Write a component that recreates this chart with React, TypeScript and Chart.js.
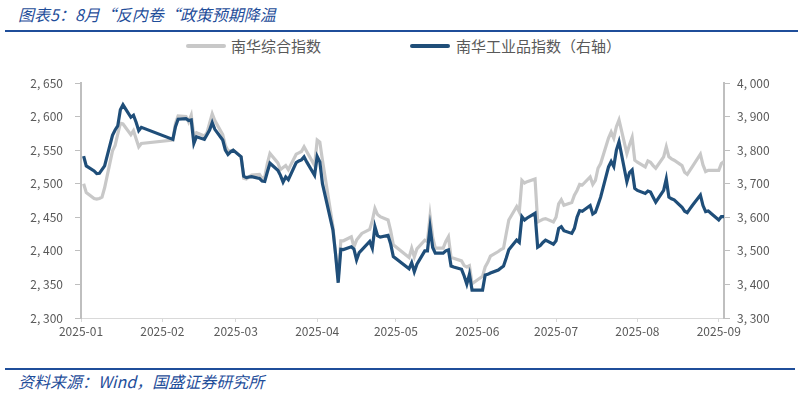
import React, { useEffect, useRef } from "react";
import { Chart, registerables } from "chart.js";

Chart.register(...registerables);

const dates = [
  "2025-01-02","2025-01-03","2025-01-06","2025-01-07","2025-01-08","2025-01-09","2025-01-10",
  "2025-01-13","2025-01-14","2025-01-15","2025-01-16","2025-01-17","2025-01-20","2025-01-21",
  "2025-01-22","2025-01-23","2025-01-24","2025-02-05","2025-02-06","2025-02-07","2025-02-10",
  "2025-02-11","2025-02-12","2025-02-13","2025-02-14","2025-02-17","2025-02-18","2025-02-19",
  "2025-02-20","2025-02-21","2025-02-24","2025-02-25","2025-02-26","2025-02-27","2025-02-28",
  "2025-03-03","2025-03-04","2025-03-05","2025-03-06","2025-03-07","2025-03-10","2025-03-11",
  "2025-03-12","2025-03-13","2025-03-14","2025-03-17","2025-03-18","2025-03-19","2025-03-20",
  "2025-03-21","2025-03-24","2025-03-25","2025-03-26","2025-03-27","2025-03-28","2025-03-31",
  "2025-04-01","2025-04-02","2025-04-03","2025-04-07","2025-04-08","2025-04-09","2025-04-10",
  "2025-04-11","2025-04-14","2025-04-15","2025-04-16","2025-04-17","2025-04-18","2025-04-21",
  "2025-04-22","2025-04-23","2025-04-24","2025-04-25","2025-04-28","2025-04-29","2025-04-30",
  "2025-05-06","2025-05-07","2025-05-08","2025-05-09","2025-05-12","2025-05-13","2025-05-14",
  "2025-05-15","2025-05-16","2025-05-19","2025-05-20","2025-05-21","2025-05-22","2025-05-23",
  "2025-05-26","2025-05-27","2025-05-28","2025-05-29","2025-05-30","2025-06-03","2025-06-04",
  "2025-06-05","2025-06-06","2025-06-09","2025-06-10","2025-06-11","2025-06-12","2025-06-13",
  "2025-06-16","2025-06-17","2025-06-18","2025-06-19","2025-06-20","2025-06-23","2025-06-24",
  "2025-06-25","2025-06-26","2025-06-27","2025-06-30","2025-07-01","2025-07-02","2025-07-03",
  "2025-07-04","2025-07-07","2025-07-08","2025-07-09","2025-07-10","2025-07-11","2025-07-14",
  "2025-07-15","2025-07-16","2025-07-17","2025-07-18","2025-07-21","2025-07-22","2025-07-23",
  "2025-07-24","2025-07-25","2025-07-28","2025-07-29","2025-07-30","2025-07-31","2025-08-01",
  "2025-08-04","2025-08-05","2025-08-06","2025-08-07","2025-08-08","2025-08-11","2025-08-12",
  "2025-08-13","2025-08-14","2025-08-15","2025-08-18","2025-08-19","2025-08-20","2025-08-21",
  "2025-08-22","2025-08-25","2025-08-26","2025-08-27","2025-08-28","2025-08-29","2025-09-01",
  "2025-09-02","2025-09-03"
];

// 南华综合指数 (left axis)
const composite = [
  2500,2487,2478,2477,2478,2480,2494,
  2549,2557,2574,2590,2589,2573,2579,
  2567,2555,2560,2565,2590,2601,2600,
  2592,2602,2571,2576,2571,2576,2590,
  2604,2594,2573,2557,2549,2549,2550,
  2540,2508,2507,2510,2513,2514,2508,
  2510,2530,2545,2531,2521,2524,2527,
  2521,2544,2546,2548,2555,2548,2527,
  2565,2562,2535,2436,2395,2359,2415,
  2415,2421,2406,2416,2421,2426,2432,
  2445,2463,2454,2451,2446,2430,2409,
  2390,2404,2391,2403,2416,2414,2452,
  2420,2404,2404,2414,2421,2390,2389,
  2385,2378,2376,2378,2351,2362,2376,
  2383,2392,2399,2402,2404,2425,2446,
  2466,2458,2505,2501,2503,2507,2443,
  2445,2447,2448,2443,2450,2470,2476,
  2468,2472,2483,2490,2499,2498,2510,
  2499,2505,2523,2530,2568,2577,2568,
  2585,2595,2545,2558,2569,2535,2532,
  2525,2534,2532,2527,2523,2540,2555,
  2540,2537,2535,2527,2517,2514,2520,
  2526,2544,2528,2518,2520,2520,2520,
  2530,2533
];

// 南华工业品指数 (right axis)
const industrial = [
  3782,3753,3738,3730,3731,3742,3753,
  3844,3860,3872,3920,3935,3898,3904,
  3883,3858,3868,3832,3870,3892,3894,
  3888,3890,3820,3840,3832,3846,3860,
  3882,3862,3830,3800,3787,3795,3800,
  3780,3722,3718,3720,3721,3716,3708,
  3707,3735,3761,3740,3725,3705,3720,
  3712,3763,3768,3771,3780,3765,3725,
  3781,3765,3700,3562,3490,3405,3505,
  3504,3512,3505,3473,3495,3503,3528,
  3508,3572,3545,3541,3546,3520,3483,
  3447,3465,3438,3460,3500,3500,3570,
  3510,3493,3493,3500,3503,3455,3452,
  3445,3425,3401,3430,3383,3383,3428,
  3430,3434,3443,3449,3455,3478,3503,
  3532,3525,3602,3592,3598,3612,3511,
  3516,3525,3532,3520,3530,3567,3572,
  3560,3552,3567,3600,3620,3618,3635,
  3610,3615,3637,3660,3750,3766,3751,
  3800,3825,3706,3733,3741,3686,3680,
  3671,3678,3675,3660,3645,3680,3714,
  3660,3655,3652,3630,3618,3614,3625,
  3636,3666,3635,3617,3619,3612,3592,
  3602,3602
];

const monthStarts = [
  "2025-01-01","2025-02-01","2025-03-01","2025-04-01","2025-05-01",
  "2025-06-01","2025-07-01","2025-08-01","2025-09-01"
];
const monthLabels = [
  "2025-01","2025-02","2025-03","2025-04","2025-05",
  "2025-06","2025-07","2025-08","2025-09"
];
const xStart = "2025-01-01";
const xEnd = "2025-09-03";

const seriesNames = ["南华综合指数", "南华工业品指数（右轴）"];
const titleText = "图表5：8月“反内卷“政策预期降温";
const sourceText = "资料来源：Wind，国盛证券研究所";

const GREY = "#C8C8C8";
const NAVY = "#1F4E79";
const BLUE = "#1F4E9A";
const TXT = "#595959";
const FONT = "'Noto Sans CJK SC', 'Noto Sans', sans-serif";

const dayOf = (d: string) =>
  (Date.parse(d + "T00:00:00Z") - Date.parse(xStart + "T00:00:00Z")) / 86400000;

const fmt = (v: number) => {
  const s = Math.round(v).toString();
  return s.length > 3 ? s.slice(0, s.length - 3) + ", " + s.slice(s.length - 3) : s;
};

export default function App() {
  const ref = useRef<HTMLCanvasElement | null>(null);

  useEffect(() => {
    document.body.style.margin = "0";
    if (!ref.current) return;
    const monthDays = monthStarts.map(dayOf);
    const chart = new Chart(ref.current, {
      type: "line",
      data: {
        datasets: [
          {
            label: seriesNames[1],
            data: dates.map((d, i) => ({ x: dayOf(d), y: industrial[i] })),
            borderColor: NAVY,
            borderWidth: 3.2,
            pointRadius: 0,
            tension: 0,
            yAxisID: "y2",
            order: 1,
          },
          {
            label: seriesNames[0],
            data: dates.map((d, i) => ({ x: dayOf(d), y: composite[i] })),
            borderColor: GREY,
            borderWidth: 3.2,
            pointRadius: 0,
            tension: 0,
            yAxisID: "y",
            order: 2,
          },
        ],
      },
      options: {
        animation: false,
        responsive: false,
        maintainAspectRatio: false,
        layout: { padding: { top: 23, left: 0, right: 0, bottom: 0 } },
        plugins: { legend: { display: false }, tooltip: { enabled: false } },
        scales: {
          x: {
            type: "linear",
            min: 0,
            max: dayOf(xEnd),
            afterBuildTicks: (s: any) => {
              s.ticks = monthDays.map((v) => ({ value: v }));
            },
            afterFit: (s: any) => {
              s.height = 22;
            },
            ticks: {
              autoSkip: false,
              maxRotation: 0,
              padding: 2,
              color: TXT,
              font: { family: FONT, size: 12 },
              callback: (v: any) => {
                const i = monthDays.indexOf(Number(v));
                return i >= 0 ? monthLabels[i] : "";
              },
            },
            grid: { drawOnChartArea: false, tickLength: 4, color: "#D9D9D9" },
            border: { color: "#D9D9D9", width: 1 },
          },
          y: {
            position: "left",
            min: 2300,
            max: 2650,
            afterFit: (s: any) => {
              s.width = 81;
            },
            ticks: {
              stepSize: 50,
              padding: 12,
              color: TXT,
              font: { family: FONT, size: 12 },
              callback: (v: any) => fmt(Number(v)),
            },
            grid: { drawOnChartArea: false, tickLength: 6, color: "#BFBFBF" },
            border: { color: "#BFBFBF", width: 2 },
          },
          y2: {
            position: "right",
            min: 3300,
            max: 4000,
            afterFit: (s: any) => {
              s.width = 74;
            },
            ticks: {
              stepSize: 100,
              padding: 7,
              color: TXT,
              font: { family: FONT, size: 12 },
              callback: (v: any) => fmt(Number(v)),
            },
            grid: { drawOnChartArea: false, tickLength: 6, color: "#BFBFBF" },
            border: { color: "#BFBFBF", width: 2 },
          },
        },
      },
    } as any);
    return () => chart.destroy();
  }, []);

  const legendText: React.CSSProperties = {
    position: "absolute",
    top: 37,
    fontFamily: FONT,
    fontSize: 15,
    lineHeight: "18px",
    color: TXT,
    whiteSpace: "nowrap",
  };
  const legendLine = (left: number, color: string): React.CSSProperties => ({
    position: "absolute",
    left,
    top: 44,
    width: 40,
    height: 4,
    borderRadius: 2,
    background: color,
  });

  return (
    <div style={{ position: "relative", width: 798, height: 394, background: "#fff", overflow: "hidden" }}>
      <div
        style={{
          position: "absolute",
          left: 18,
          top: 3,
          fontFamily: FONT,
          fontStyle: "italic",
          fontSize: 16,
          lineHeight: "22px",
          color: BLUE,
          whiteSpace: "nowrap",
        }}
      >
        {titleText}
      </div>
      <div style={{ position: "absolute", left: 5, top: 30, width: 793, height: 2, background: BLUE }} />
      <div style={legendLine(186, GREY)} />
      <div style={{ ...legendText, left: 231 }}>{seriesNames[0]}</div>
      <div style={legendLine(410, NAVY)} />
      <div style={{ ...legendText, left: 456 }}>{seriesNames[1]}</div>
      <canvas
        ref={ref}
        width={798}
        height={280}
        style={{ position: "absolute", left: 0, top: 60, width: 798, height: 280 }}
      />
      <div style={{ position: "absolute", left: 5, top: 368, width: 790, height: 2, background: BLUE }} />
      <div
        style={{
          position: "absolute",
          left: 18,
          top: 371,
          fontFamily: FONT,
          fontStyle: "italic",
          fontSize: 16,
          lineHeight: "20px",
          color: BLUE,
          whiteSpace: "nowrap",
        }}
      >
        {sourceText}
      </div>
    </div>
  );
}
